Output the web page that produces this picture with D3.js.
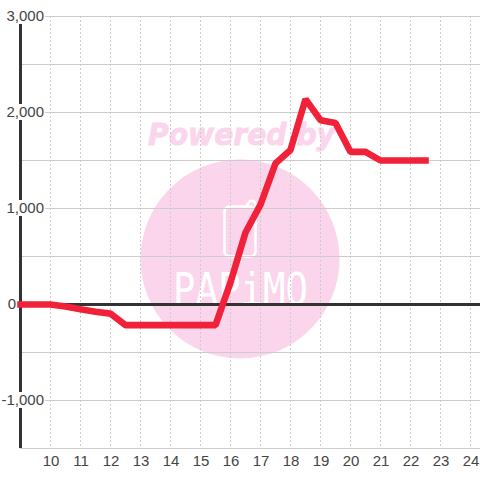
<!DOCTYPE html>
<html><head><meta charset="utf-8">
<script src="https://cdn.jsdelivr.net/npm/d3@7"></script>
<style>html,body{margin:0;padding:0;background:#fff}svg{display:block}text{font-family:"Liberation Sans",Arial,sans-serif}</style>
</head><body><svg id="c" width="480" height="480"></svg>
<script>
const hours=[9,9.5,10,10.5,11,11.5,12,12.5,13,13.5,14,14.5,15,15.5,16,16.5,17,17.5,18,18.5,19,19.5,20,20.5,21,21.5,22,22.5];
const values=[0,0,0,-20,-50,-75,-95,-215,-215,-215,-215,-215,-215,-215,230,750,1040,1470,1610,2140,1920,1890,1590,1590,1500,1500,1500,1500];
const xTicks=[10,11,12,13,14,15,16,17,18,19,20,21,22,23,24];
const yMajor=[3000,2000,1000,-1000];
const yMajorLabels=["3,000","2,000","1,000","-1,000"];
const yMinor=[2500,1500,500,-500,-1500];
const zeroLabel=[0];
const svg=d3.select("#c");
const x=d3.scaleLinear().domain([9,24]).range([20.5,470.5]);
const y=d3.scaleLinear().domain([-1500,3000]).range([448.5,16.5]);
// watermark
const wm=svg.append("g");
wm.append("circle").attr("cx",240).attr("cy",259).attr("r",99.5).attr("fill","#fbd5ec");
wm.append("text").attr("x",148).attr("y",145).attr("font-size",29.5).attr("font-weight","bold").attr("font-style","italic")
  .attr("textLength",187).attr("lengthAdjust","spacingAndGlyphs").style("font-family","'DejaVu Sans'").attr("fill","#fbd5ec").attr("stroke","#fbd5ec").attr("stroke-width",0.8).text("Powered by");
wm.append("rect").attr("x",224.5).attr("y",206.5).attr("width",31).attr("height",50).attr("rx",5).attr("fill","none").attr("stroke","#fff").attr("stroke-width",2.5);
wm.append("path").attr("d",d3.line()([[246,206],[250,201],[254,201],[256,206]])).attr("fill","none").attr("stroke","#fff").attr("stroke-width",2.5);
wm.append("text").attr("x",173).attr("y",305).attr("font-size",44).attr("textLength",135).attr("lengthAdjust","spacingAndGlyphs")
  .style("font-family","'DejaVu Sans Mono'").attr("fill","#fff").text("PAPiMO");
// grid
const grid="#cccccc";
svg.append("g").selectAll("line").data(xTicks).join("line")
  .attr("x1",d=>x(d)).attr("x2",d=>x(d)).attr("y1",16).attr("y2",448)
  .attr("stroke",grid).attr("stroke-dasharray","2,2");
svg.append("g").selectAll("line").data(yMajor.concat(yMinor)).join("line")
  .attr("x1",20).attr("x2",480).attr("y1",d=>y(d)).attr("y2",d=>y(d))
  .attr("stroke",grid);
// axes
svg.append("line").attr("x1",20.5).attr("x2",20.5).attr("y1",16).attr("y2",448).attr("stroke","#333").attr("stroke-width",3);
svg.append("line").attr("x1",20).attr("x2",480).attr("y1",y(0)).attr("y2",y(0)).attr("stroke","#333").attr("stroke-width",3);
// y labels with white backing
const yl=svg.append("g").selectAll("g").data(yMajor).join("g").attr("transform",d=>`translate(44,${y(d)-.5})`);
const yt=yl.append("text").attr("text-anchor","end").attr("dy",".35em").attr("font-size",15).attr("fill","#444").text((d,i)=>yMajorLabels[i]);
yt.each(function(){const b=this.getBBox();
  d3.select(this.parentNode).insert("rect","text").attr("x",b.x).attr("y",-8).attr("width",b.width+1).attr("height",16).attr("fill","#fff");});
svg.append("g").selectAll("text").data(zeroLabel).join("text").attr("x",16).attr("y",d=>y(d)-.5).attr("dy",".35em").attr("text-anchor","end")
  .attr("font-size",15).attr("fill","#444").text(d=>d);
svg.append("g").selectAll("text").data(xTicks).join("text").attr("x",d=>x(d)+.5).attr("y",466).attr("text-anchor","middle")
  .attr("font-size",15).attr("fill","#444").text(d=>d);
// line
const line=d3.line().x((d,i)=>x(hours[i])).y(d=>y(d));
svg.append("path").datum(values).attr("d",line).attr("fill","none").attr("stroke","#f02138").attr("stroke-width",6.6).attr("stroke-linejoin","bevel").attr("stroke-linecap","square");
</script></body></html>
